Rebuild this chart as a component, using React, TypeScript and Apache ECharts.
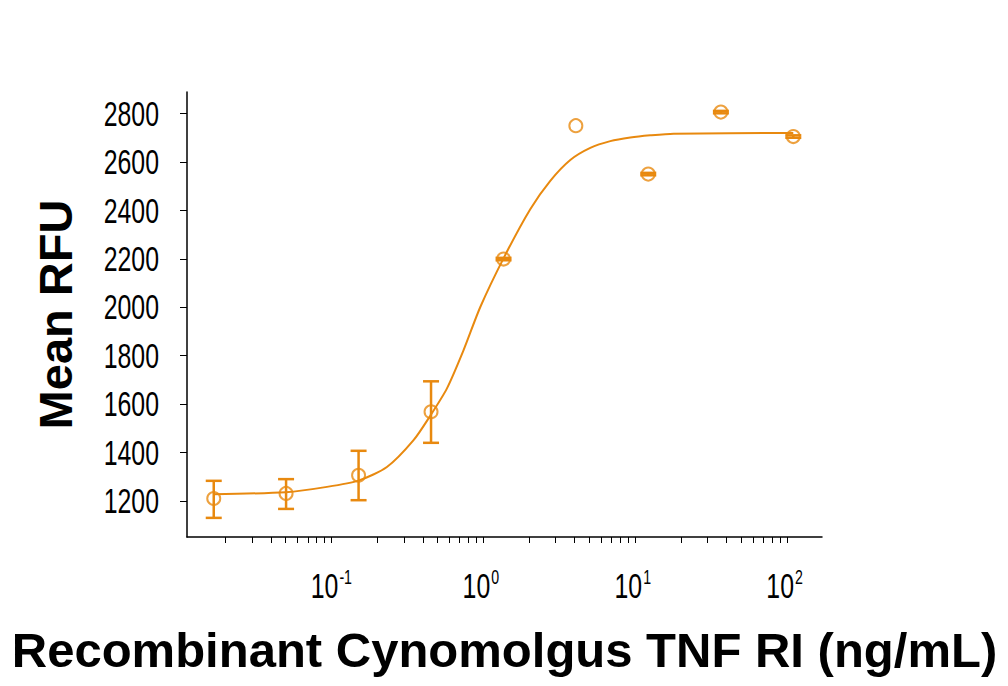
import React, { useEffect, useRef } from "react";
import * as echarts from "echarts";

const ORANGE = "#E8890F";

// concentrations (ng/mL)
const conc = [0.0168, 0.0503, 0.151, 0.453, 1.36, 4.07, 12.2, 36.7, 110];
// mean RFU
const meanRFU = [1210, 1231, 1306, 1568, 2199, 2750, 2550, 2806, 2705];
const errLow = [1130, 1167, 1203, 1440, 2194, 2750, 2545, 2801, 2700];
const errHigh = [1283, 1290, 1407, 1694, 2204, 2750, 2555, 2811, 2710];

// fitted curve
const curveX = [0.0168, 0.05, 0.0935, 0.152, 0.232, 0.3475, 0.4477, 0.5768, 0.742, 0.956, 1.375, 2.039, 2.762, 3.741, 5.066, 6.86, 9.29, 12.58, 17.9, 110];
const curveY = [1228, 1236, 1258, 1285, 1340, 1451, 1552, 1665, 1823, 2001, 2208, 2405, 2522, 2608, 2658, 2686, 2701, 2710, 2717, 2720];

const yTicks = [1200, 1400, 1600, 1800, 2000, 2200, 2400, 2600, 2800];
const xMajor = [0.1, 1, 10, 100];
const xMinorMult = [2, 3, 4, 5, 6, 7, 8, 9];
const xDecades = [0.01, 0.1, 1, 10, 100];

export default function App() {
  const ref = useRef<HTMLDivElement>(null);
  useEffect(() => {
    if (!ref.current) return;
    const chart = echarts.init(ref.current, null, { renderer: "svg" });
    const xTickVals: number[] = [];
    xDecades.forEach((d) => {
      if (d >= 0.1) xTickVals.push(d);
      xMinorMult.forEach((m) => {
        const v = +(d * m).toPrecision(3);
        if (v < 170) xTickVals.push(v);
      });
    });
    const labelFont = "'Liberation Sans', Arial, sans-serif";
    const bold = "'Liberation Sans', Arial, sans-serif";
    chart.setOption({
      animation: false,
      backgroundColor: "#ffffff",
      grid: { left: 187, right: 186, top: 92, bottom: 149, containLabel: false },
      xAxis: {
        type: "log",
        logBase: 10,
        min: 0.0112,
        max: 170,
        name: "Recombinant Cynomolgus TNF RI (ng/mL)",
        nameLocation: "middle",
        nameGap: 88,
        nameTextStyle: { fontFamily: bold, fontWeight: "bold", fontSize: 49, color: "#000" },
        axisLine: { show: true, lineStyle: { color: "#000", width: 1.5 } },
        axisTick: { show: true, inside: false, length: 6, lineStyle: { color: "#000", width: 1 }, customValues: xTickVals },
        splitLine: { show: false },
        minorTick: { show: false },
        axisLabel: { show: false },
      },
      yAxis: {
        type: "value",
        min: 1051,
        max: 2889,
        name: "Mean RFU",
        nameLocation: "middle",
        nameGap: 108,
        nameRotate: 90,
        nameTextStyle: { fontFamily: bold, fontWeight: "bold", fontSize: 47, color: "#000" },
        axisLine: { show: true, lineStyle: { color: "#000", width: 1.5 } },
        axisTick: { show: true, length: 7, lineStyle: { color: "#000", width: 1 }, customValues: yTicks },
        splitLine: { show: false },
        axisLabel: { show: false },
      },
      series: [
        {
          type: "line",
          data: curveX.map((x, i) => [x, curveY[i]]),
          smooth: 0.25,
          showSymbol: false,
          symbol: "none",
          lineStyle: { color: ORANGE, width: 2 },
          z: 2,
        },
        {
          type: "custom",
          data: conc.map((x, i) => [x, errLow[i], errHigh[i]]),
          encode: { x: 0, y: [1, 2] },
          renderItem: (params: any, api: any) => {
            const x = api.value(0);
            const lo = api.value(1);
            const hi = api.value(2);
            if (hi - lo < 0.5) return null;
            const pH = api.coord([x, hi]);
            const pL = api.coord([x, lo]);
            const hw = 8;
            const st = { stroke: ORANGE, lineWidth: 2.5 };
            return {
              type: "group",
              children: [
                { type: "line", shape: { x1: pH[0], y1: pH[1], x2: pL[0], y2: pL[1] }, style: st },
                { type: "line", shape: { x1: pH[0] - hw, y1: pH[1], x2: pH[0] + hw, y2: pH[1] }, style: st },
                { type: "line", shape: { x1: pL[0] - hw, y1: pL[1], x2: pL[0] + hw, y2: pL[1] }, style: st },
              ],
            };
          },
          z: 3,
        },
        {
          type: "scatter",
          data: conc.map((x, i) => [x, meanRFU[i]]),
          symbol: "circle",
          symbolSize: 13,
          itemStyle: { color: "rgba(0,0,0,0)", borderColor: ORANGE, borderWidth: 2 },
          z: 4,
        },
      ],
    });

    // condensed tick labels, placed through the axes' own scales
    const SX = 0.71;
    const graphics: any[] = [];
    const yAxisPx = chart.convertToPixel({ xAxisIndex: 0 }, 0.0112) as number;
    yTicks.forEach((v) => {
      const py = chart.convertToPixel({ yAxisIndex: 0 }, v) as number;
      graphics.push({
        type: "text",
        x: yAxisPx - 28,
        y: py,
        scaleX: SX,
        style: {
          text: String(v),
          fontFamily: labelFont,
          fontSize: 35,
          fill: "#000",
          textAlign: "right",
          textVerticalAlign: "middle",
        },
      });
    });
    const xAxisPy = chart.convertToPixel({ yAxisIndex: 0 }, 1051) as number;
    xMajor.forEach((v) => {
      const px = chart.convertToPixel({ xAxisIndex: 0 }, v) as number;
      const e = Math.round(Math.log10(v));
      graphics.push({
        type: "text",
        x: px + 7,
        y: xAxisPy + 49,
        scaleX: SX,
        style: {
          text: "10",
          fontFamily: labelFont,
          fontSize: 35,
          fill: "#000",
          textAlign: "right",
          textVerticalAlign: "middle",
        },
      });
      graphics.push({
        type: "text",
        x: px + 8,
        y: xAxisPy + 40,
        scaleX: SX,
        style: {
          text: String(e),
          fontFamily: labelFont,
          fontSize: 20,
          fill: "#000",
          textAlign: "left",
          textVerticalAlign: "middle",
        },
      });
    });
    chart.setOption({ graphic: graphics });
    return () => chart.dispose();
  }, []);
  return <div ref={ref} style={{ width: 1008, height: 686, margin: -8 }} />;
}
